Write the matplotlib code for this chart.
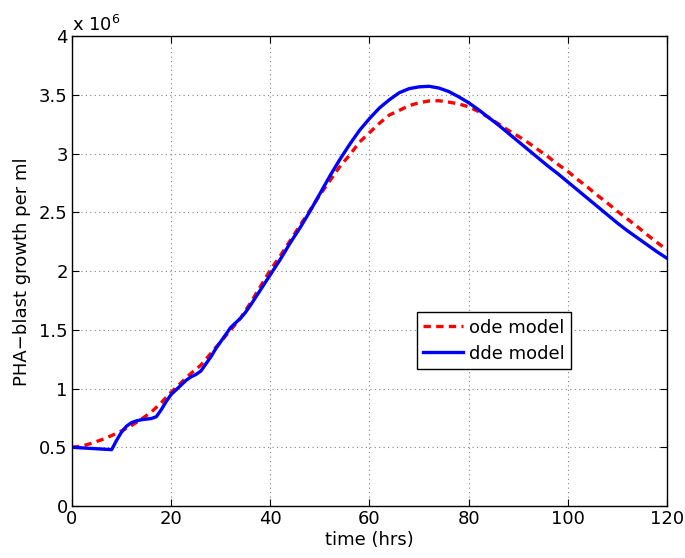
import matplotlib
matplotlib.use('Agg')
import matplotlib.pyplot as plt
from matplotlib.ticker import FuncFormatter
import numpy as np

# values, growth in units of 1e6 cells per ml
ode_t = [0, 2, 4, 6, 8, 10, 12, 14, 16, 18, 20, 22, 24, 26, 28, 30, 32, 34, 36, 38,
         40, 42, 44, 46, 48, 50, 52, 54, 56, 58, 60, 62, 64, 66, 68, 70, 72, 74, 76,
         78, 80, 82, 84, 86, 88, 90, 92, 94, 96, 98, 100, 102, 104, 106, 108, 110,
         112, 114, 116, 118, 120]
ode_v = [0.50, 0.51, 0.535, 0.565, 0.60, 0.64, 0.685, 0.74, 0.80, 0.88, 0.97, 1.05,
         1.13, 1.20, 1.30, 1.40, 1.50, 1.60, 1.73, 1.87, 2.01, 2.13, 2.26, 2.39, 2.52,
         2.65, 2.77, 2.89, 2.99, 3.10, 3.18, 3.26, 3.33, 3.37, 3.41, 3.435, 3.45,
         3.452, 3.44, 3.425, 3.40, 3.36, 3.31, 3.255, 3.20, 3.15, 3.095, 3.035, 2.975,
         2.91, 2.85, 2.78, 2.715, 2.645, 2.58, 2.51, 2.445, 2.38, 2.31, 2.245, 2.18]

dde_t = [0, 2, 4, 6, 8, 9, 10, 11, 12, 13, 14, 15, 16, 17, 18, 19, 20, 21, 22, 23,
         24, 25, 26, 27, 28, 29, 30, 31, 32, 33, 34, 35, 36, 38, 40, 42, 44, 46, 48,
         50, 52, 54, 56, 58, 60, 62, 64, 66, 68, 70, 72, 74, 76, 78, 80, 82, 84, 86,
         88, 90, 92, 94, 96, 98, 100, 102, 104, 106, 108, 110, 112, 114, 116, 118, 120]
dde_v = [0.50, 0.495, 0.49, 0.485, 0.48, 0.56, 0.63, 0.68, 0.71, 0.725, 0.735, 0.74,
         0.745, 0.76, 0.82, 0.89, 0.95, 0.99, 1.03, 1.07, 1.10, 1.12, 1.15, 1.21, 1.27,
         1.34, 1.40, 1.46, 1.52, 1.56, 1.60, 1.65, 1.71, 1.84, 1.97, 2.10, 2.24, 2.37,
         2.51, 2.66, 2.81, 2.95, 3.08, 3.20, 3.30, 3.39, 3.46, 3.52, 3.555, 3.57,
         3.575, 3.56, 3.53, 3.485, 3.435, 3.375, 3.31, 3.245, 3.175, 3.105, 3.035,
         2.965, 2.895, 2.83, 2.76, 2.69, 2.62, 2.55, 2.48, 2.41, 2.345, 2.285, 2.225,
         2.165, 2.11]

x_ticks = [0, 20, 40, 60, 80, 100, 120]
y_ticks = [0, 0.5, 1, 1.5, 2, 2.5, 3, 3.5, 4]

plt.rcParams['font.family'] = ['DejaVu Sans']
fs = 13

fig = plt.figure(figsize=(6.85, 5.58), dpi=100)
ax = fig.add_axes([0.1051, 0.0932, 0.8686, 0.8416])

scale = 1e6
ax.plot(ode_t, np.array(ode_v) * scale, 'r--', lw=2.4, dashes=(2.2, 1.6), label='ode model')
ax.plot(dde_t, np.array(dde_v) * scale, 'b-', lw=2.4, label='dde model')

ax.set_xlim(0, 120)
ax.set_ylim(0, 4 * scale)
ax.set_xticks(x_ticks)
ax.set_yticks([v * scale for v in y_ticks])
ax.yaxis.set_major_formatter(FuncFormatter(lambda v, p: f'{v / scale:g}'))
ax.tick_params(direction='in', top=True, right=True, labelsize=fs, length=5, pad=3)
ax.grid(True, linestyle=(0, (1, 3)), color='#808080', lw=0.8)
for s in ax.spines.values():
    s.set_linewidth(1.0)

ax.set_xlabel('time (hrs)', fontsize=fs, labelpad=2)
ax.set_ylabel('PHA\u2212blast growth per ml', fontsize=fs, labelpad=6)
ax.text(0.0, 1.003, 'x 10$^{6}$', transform=ax.transAxes, fontsize=fs, va='bottom', ha='left')

leg = ax.legend(loc='center', bbox_to_anchor=(0.709, 0.352),
                fontsize=fs, fancybox=False, edgecolor='black', framealpha=1,
                handlelength=2.2, borderaxespad=0, borderpad=0.35, labelspacing=0.45,
                handletextpad=0.3)
leg.get_frame().set_linewidth(1.0)

fig.savefig('out.png', dpi=100)
